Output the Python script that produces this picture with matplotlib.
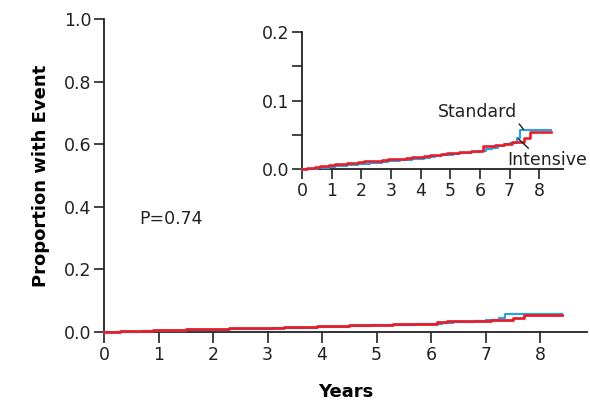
import matplotlib.pyplot as plt

plt.rcParams['font.family'] = ['DejaVu Sans']

# cumulative proportion with event
intensive_t = [0, 0.15, 0.3, 0.45, 0.6, 0.75, 0.9, 1.1, 1.3, 1.5, 1.7, 1.9, 2.1,
               2.3, 2.5, 2.7, 2.9, 3.1, 3.3, 3.5, 3.7, 3.9, 4.1, 4.3, 4.5, 4.7,
               4.9, 5.1, 5.3, 5.5, 5.7, 5.9, 6.1, 6.3, 6.5, 6.8, 7.1, 7.5, 7.7, 8.4]
intensive_y = [0, 0.001, 0.002, 0.003, 0.004, 0.005, 0.006, 0.007, 0.008, 0.0085,
               0.009, 0.010, 0.011, 0.0115, 0.012, 0.013, 0.014, 0.0145, 0.015,
               0.016, 0.017, 0.018, 0.019, 0.020, 0.021, 0.022, 0.023, 0.024,
               0.0245, 0.025, 0.026, 0.027, 0.033, 0.034, 0.035, 0.036, 0.039,
               0.045, 0.054, 0.054]

standard_t = [0, 0.3, 0.5, 0.7, 0.9, 1.1, 1.3, 1.5, 1.7, 1.9, 2.1, 2.3, 2.5, 2.7,
              2.9, 3.1, 3.3, 3.5, 3.7, 3.9, 4.1, 4.3, 4.5, 4.7, 4.9, 5.1, 5.3,
              5.5, 5.7, 6.0, 6.2, 6.4, 6.6, 6.8, 7.0, 7.25, 7.35, 8.4]
standard_y = [0, 0.0005, 0.001, 0.002, 0.003, 0.004, 0.005, 0.006, 0.0065, 0.007,
              0.008, 0.0085, 0.009, 0.010, 0.011, 0.012, 0.0125, 0.013, 0.014,
              0.015, 0.016, 0.0175, 0.019, 0.020, 0.021, 0.022, 0.023, 0.024,
              0.025, 0.026, 0.029, 0.031, 0.033, 0.036, 0.038, 0.045, 0.057, 0.057]

p_value = 'P=0.74'
red = '#e41f2b'
blue = '#2f9fe3'
dark = '#222222'

fig = plt.figure(figsize=(5.9, 4.03), dpi=100)


def style(ax):
    for s in ['top', 'right']:
        ax.spines[s].set_visible(False)
    for s in ['left', 'bottom']:
        ax.spines[s].set_color(dark)
        ax.spines[s].set_linewidth(1.3)
        ax.spines[s].set_zorder(1)
    ax.tick_params(colors=dark, labelsize=12.5, width=1.2, pad=2)


# main plot
ax = fig.add_axes([0.1763, 0.176, 0.8187, 0.777])
ax.step(standard_t, standard_y, where='post', color=blue, lw=1.6,
        zorder=3, clip_on=False)
ax.step(intensive_t, intensive_y, where='post', color=red, lw=2.0,
        zorder=3, clip_on=False)
ax.set_xlim(0, 8.86)
ax.set_ylim(0, 1.0)
ax.set_xticks(range(0, 9))
ax.set_yticks([0, 0.2, 0.4, 0.6, 0.8, 1.0])
ax.set_yticklabels(['0.0', '0.2', '0.4', '0.6', '0.8', '1.0'])
style(ax)
ax.tick_params(axis='x', length=8)
ax.tick_params(axis='y', length=7)
ax.set_xlabel('Years', fontsize=13, fontweight='bold', labelpad=14)
ax.set_ylabel('Proportion with Event', fontsize=13, fontweight='bold', labelpad=10)
ax.text(0.64, 0.36, p_value, fontsize=12.5, va='center', ha='left', color=dark)

# inset
ax_in = fig.add_axes([0.512, 0.5806, 0.442, 0.34])
ax_in.step(standard_t, standard_y, where='post', color=blue, lw=1.5,
           zorder=3, clip_on=False)
ax_in.step(intensive_t, intensive_y, where='post', color=red, lw=1.9,
           zorder=3, clip_on=False)
ax_in.set_xlim(0, 8.8)
ax_in.set_ylim(0, 0.2)
ax_in.set_xticks(range(0, 9))
ax_in.set_yticks([0, 0.1, 0.2])
ax_in.set_yticklabels(['0.0', '0.1', '0.2'])
ax_in.set_yticks([0.05, 0.15], minor=True)
style(ax_in)
ax_in.tick_params(which='both', length=7)
ax_in.tick_params(which='minor', width=1.2, colors=dark)

ax_in.annotate('Standard', xy=(7.47, 0.058), xytext=(7.25, 0.083),
               fontsize=12.5, ha='right', va='center', color=dark,
               arrowprops=dict(arrowstyle='-', color=dark, lw=1.0,
                               shrinkA=0, shrinkB=0,
                               relpos=(1.0, 0.0)))
ax_in.annotate('Intensive', xy=(7.3, 0.044), xytext=(6.93, 0.013),
               fontsize=12.5, ha='left', va='center', color=dark,
               arrowprops=dict(arrowstyle='-', color=dark, lw=1.0,
                               shrinkA=0, shrinkB=0,
                               relpos=(0.3, 1.0)))

fig.savefig('out.png', dpi=100)
